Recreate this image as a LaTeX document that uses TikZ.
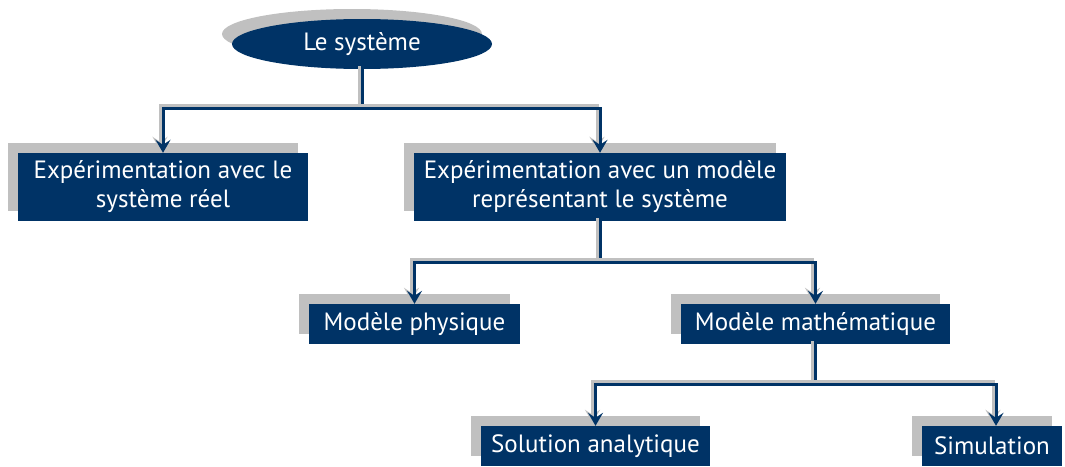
\documentclass[tikz,border=0pt]{standalone}
\usepackage{fontspec}
\setmainfont{PT Sans}
\usetikzlibrary{arrows.meta,shapes.geometric,shadows}
\definecolor{navy}{RGB}{0,51,102}
\definecolor{shade}{RGB}{192,192,192}

\begin{document}
\begin{tikzpicture}[x=1pt, y=-1pt,
	box/.style = {fill=navy, text=white, inner sep=0pt, align=center, font=\fontsize{25}{29}\selectfont, drop shadow={shadow xshift=-10pt, shadow yshift=10pt, fill=shade, opacity=1}},
	rootbox/.style = {box, ellipse, minimum width=260pt, minimum height=50pt},
	stem/.style = {draw=navy, line width=3pt, preaction={draw=shade, line width=3pt, transform canvas={xshift=-3pt, yshift=3pt}}},
	link/.style = {stem, -{Stealth[length=13pt, width=15pt, inset=5pt]}}]
	\useasboundingbox (0,0) rectangle (1065,466);
	% boxes
	\node[rootbox] (sys) at (362,44) {Le système};
	\node[box, minimum width=290pt, minimum height=68pt] (reel) at (163,187) {Expérimentation avec le\\système réel};
	\node[box, minimum width=372pt, minimum height=68pt] (modele) at (600,187) {Expérimentation avec un modèle\\représentant le système};
	\node[box, minimum width=211pt, minimum height=40pt] (phys) at (414.5,324) {Modèle physique};
	\node[box, minimum width=269pt, minimum height=40pt] (math) at (815.5,324) {Modèle mathématique};
	\node[box, minimum width=229pt, minimum height=40pt] (analyt) at (595.5,446) {Solution analytique};
	\node[box, minimum width=140pt, minimum height=40pt] (simu) at (992,446) {Simulation};
	% branch points
	\coordinate (j1) at (362,108);
	\coordinate (j2) at (600,262);
	\coordinate (j3) at (815.5,384);
	% connectors
	\draw[stem] (sys.south) -- (j1);
	\draw[link] (j1) -| (reel.north);
	\draw[link] (j1) -| (modele.north);
	\draw[stem] (modele.south) -- (j2);
	\draw[link] (j2) -| (phys.north);
	\draw[link] (j2) -| (math.north);
	\draw[stem] (math.south) -- (j3);
	\draw[link] (j3) -| (analyt.north);
	\draw[link] (j3) -| ([xshift=4pt]simu.north);
\end{tikzpicture}
\end{document}
